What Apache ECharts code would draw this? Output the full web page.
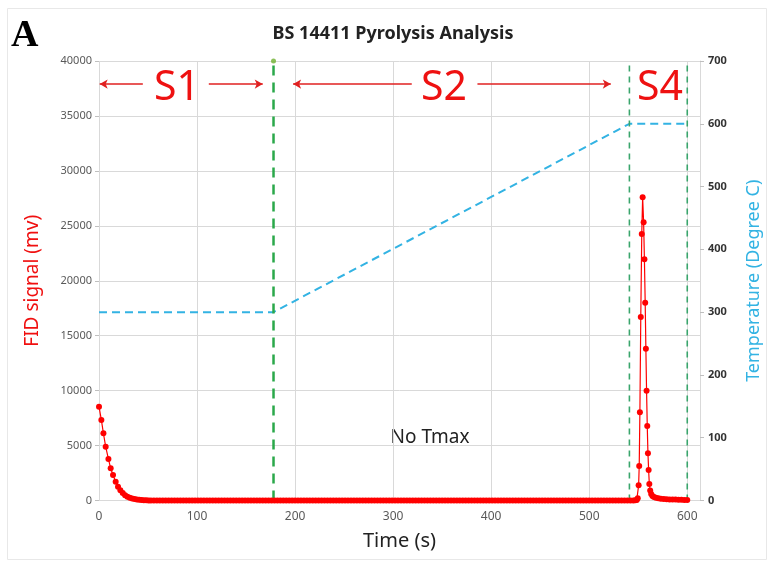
<!DOCTYPE html>
<html>
<head>
<meta charset="utf-8">
<script src="https://cdn.jsdelivr.net/npm/echarts@6/dist/echarts.min.js"></script>
<style>
html,body{margin:0;padding:0;background:#fff;}
#chart{width:772px;height:563px;}
</style>
</head>
<body>
<div id="chart"></div>
<script>
// ---- data ----
const chartTitle = 'BS 14411 Pyrolysis Analysis';
const xTicks = [0, 100, 200, 300, 400, 500, 600];
const leftTicks = [0, 5000, 10000, 15000, 20000, 25000, 30000, 35000, 40000];
const rightTicks = [0, 100, 200, 300, 400, 500, 600, 700];

// FID signal (mv) vs time (s)
const fidTime = [
  0, 2.4, 4.5, 6.8, 9.6, 11.9, 14.3, 17, 19.4, 21.8, 24.2, 26.6, 29, 31.4, 33.8, 36.2, 38.6, 41, 43.4, 45.8, 48.2, 50.6,
  53, 56, 59, 62, 65, 68, 71, 74, 77, 80, 83, 86, 89, 92, 95, 98, 101, 104, 107, 110,
  113, 116, 119, 122, 125, 128, 131, 134, 137, 140, 143, 146, 149, 152, 155, 158, 161, 164, 167, 170,
  173, 176, 179, 182, 185, 188, 191, 194, 197, 200, 203, 206, 209, 212, 215, 218, 221, 224, 227, 230,
  233, 236, 239, 242, 245, 248, 251, 254, 257, 260, 263, 266, 269, 272, 275, 278, 281, 284, 287, 290,
  293, 296, 299, 302, 305, 308, 311, 314, 317, 320, 323, 326, 329, 332, 335, 338, 341, 344, 347, 350,
  353, 356, 359, 362, 365, 368, 371, 374, 377, 380, 383, 386, 389, 392, 395, 398, 401, 404, 407, 410,
  413, 416, 419, 422, 425, 428, 431, 434, 437, 440, 443, 446, 449, 452, 455, 458, 461, 464, 467, 470,
  473, 476, 479, 482, 485, 488, 491, 494, 497, 500, 503, 506, 509, 512, 515, 518, 521, 524, 527, 530,
  533, 536, 539, 542, 545, 547, 548.5, 549.5, 550.4, 551.0, 551.7, 552.6, 553.6, 554.5, 555.5, 556.3,
  557.1, 557.8, 558.5, 559.2, 559.9, 560.6, 561.3, 562.2, 563.2, 564.5, 566, 568, 570.5, 573, 576, 579,
  582, 585, 588, 591, 594, 597, 600
];
const fidValue = [
  8540, 7330, 6120, 4900, 3780, 2930, 2320, 1710, 1260, 930, 680, 480, 350, 250, 180, 130, 90, 60, 40, 25, 15, 8,
  0, 0, 0, 0, 0, 0, 0, 0, 0, 0, 0, 0, 0, 0, 0, 0, 0, 0, 0, 0,
  0, 0, 0, 0, 0, 0, 0, 0, 0, 0, 0, 0, 0, 0, 0, 0, 0, 0, 0, 0,
  0, 0, 0, 0, 0, 0, 0, 0, 0, 0, 0, 0, 0, 0, 0, 0, 0, 0, 0, 0,
  0, 0, 0, 0, 0, 0, 0, 0, 0, 0, 0, 0, 0, 0, 0, 0, 0, 0, 0, 0,
  0, 0, 0, 0, 0, 0, 0, 0, 0, 0, 0, 0, 0, 0, 0, 0, 0, 0, 0, 0,
  0, 0, 0, 0, 0, 0, 0, 0, 0, 0, 0, 0, 0, 0, 0, 0, 0, 0, 0, 0,
  0, 0, 0, 0, 0, 0, 0, 0, 0, 0, 0, 0, 0, 0, 0, 0, 0, 0, 0, 0,
  0, 0, 0, 0, 0, 0, 0, 0, 0, 0, 0, 0, 0, 0, 0, 0, 0, 0, 0, 0,
  0, 0, 0, 0, 10, 20, 50, 200, 1380, 3140, 8030, 16700, 24250, 27600, 25320, 21950,
  18000, 13820, 9990, 6780, 4300, 2780, 1500, 900, 600, 420, 320, 250, 200, 160, 130, 110,
  100, 90, 80, 70, 60, 50, 40
];

// Temperature (Degree C) program
const tempTime = [0, 178, 541, 600];
const tempValue = [300, 300, 600, 600];

// Stage boundaries (s)
const stageBounds = [178, 541, 600];
const stageNames = ['S1', 'S2', 'S4'];
const noTmaxText = 'No Tmax';

// ---- chart ----
const chart = echarts.init(document.getElementById('chart'), null, {renderer: 'canvas'});
const fidData = fidTime.map((t, i) => [t, fidValue[i]]);
const tempData = tempTime.map((t, i) => [t, tempValue[i]]);

const fontFam = '"Noto Sans", "Open Sans", sans-serif';
const gridColor = '#d9d9d9';
const green = '#2aa84a';
const green2 = '#3aa56c';

function vline(t, color, width, dash) {
  return {
    type: 'line', yAxisIndex: 0, silent: true, symbol: 'none', z: 3,
    data: [[t, 0], [t, 40000]],
    lineStyle: {color: color, width: width, type: dash}
  };
}

const arrowY = 37900;
function arrow(from, to) {
  return [{coord: [from, arrowY]}, {coord: [to, arrowY]}];
}

const option = {
  animation: false,
  backgroundColor: '#fff',
  grid: {left: 99, right: 72, top: 61, bottom: 62.5, containLabel: false},
  xAxis: {
    type: 'value', min: xTicks[0], max: 613, interval: 100,
    name: 'Time (s)', nameLocation: 'middle', nameGap: 31,
    nameTextStyle: {fontFamily: fontFam, fontSize: 20, color: '#222'},
    axisLine: {show: true, lineStyle: {color: gridColor}},
    axisTick: {show: false},
    axisLabel: {showMaxLabel: false, fontFamily: fontFam, fontSize: 12, color: '#595959', margin: 10},
    splitLine: {show: true, lineStyle: {color: gridColor, width: 1}}
  },
  yAxis: [
    {
      type: 'value', min: leftTicks[0], max: leftTicks[leftTicks.length - 1], interval: 5000,
      name: 'FID signal (mv)', nameLocation: 'middle', nameGap: 57,
      nameTextStyle: {fontFamily: fontFam, fontSize: 19, color: '#f01010'},
      axisLine: {show: false},
      axisTick: {show: true, length: 4, lineStyle: {color: '#bfbfbf'}},
      axisLabel: {fontFamily: fontFam, fontSize: 11, color: '#595959', margin: 7,
                  formatter: function (v) { return String(v); }},
      splitLine: {show: true, lineStyle: {color: gridColor, width: 1}}
    },
    {
      type: 'value', position: 'right', min: rightTicks[0], max: rightTicks[rightTicks.length - 1], interval: 100,
      name: 'Temperature (Degree C)', nameLocation: 'middle', nameGap: 45,
      nameTextStyle: {fontFamily: fontFam, fontSize: 18, color: '#33b3e3'},
      axisLine: {show: true, lineStyle: {color: gridColor}},
      axisTick: {show: true, length: 4, lineStyle: {color: '#bfbfbf'}},
      axisLabel: {fontFamily: fontFam, fontSize: 11, color: '#333', fontWeight: 'bold', margin: 8},
      splitLine: {show: false}
    }
  ],
  series: [
    {
      type: 'line', yAxisIndex: 1, name: 'Temperature', data: tempData, symbol: 'none', z: 2,
      lineStyle: {color: '#33b3e3', width: 2, type: [8, 5]}
    },
    vline(stageBounds[0], green, 2.5, [10, 7]),
    vline(stageBounds[1], green2, 1.6, [6, 5]),
    vline(stageBounds[2], green2, 1.6, [6, 5]),
    {
      type: 'scatter', yAxisIndex: 0, data: [[stageBounds[0], 40000]], symbol: 'circle', symbolSize: 5,
      itemStyle: {color: '#6fb030'}, z: 4, silent: true
    },
    {
      type: 'line', yAxisIndex: 0, name: 'FID', data: fidData, z: 5,
      showSymbol: true, showAllSymbol: true, symbol: 'circle', symbolSize: 6,
      itemStyle: {color: '#ff0000'},
      lineStyle: {color: '#ff0000', width: 1.2},
      markLine: {
        silent: true, symbol: ['none', 'arrow'], symbolSize: [7, 8],
        lineStyle: {color: '#e02020', width: 1.5, type: 'solid'},
        label: {show: false},
        data: [arrow(44.7, 0.7), arrow(112, 167), arrow(319, 198), arrow(386, 522)]
      }
    }
  ],
  graphic: [
    {type: 'rect', shape: {x: 7.5, y: 8.5, width: 759, height: 551}, style: {fill: 'none', stroke: '#e8e8e8', lineWidth: 1}, silent: true, z: -1},
    {type: 'text', left: 11, top: 17, style: {text: 'A', font: 'bold 38px "Liberation Serif", serif', fill: '#000'}},
    {type: 'text', x: 393, y: 34, style: {text: chartTitle, font: 'bold 18px ' + fontFam, fill: '#222', textAlign: 'center', textVerticalAlign: 'middle'}},
    {type: 'text', x: 177, y: 88, style: {text: stageNames[0], font: '41px ' + fontFam, fill: '#ee1111', textAlign: 'center', textVerticalAlign: 'middle'}},
    {type: 'text', x: 444, y: 88, style: {text: stageNames[1], font: '41px ' + fontFam, fill: '#ee1111', textAlign: 'center', textVerticalAlign: 'middle'}},
    {type: 'text', x: 660, y: 88, style: {text: stageNames[2], font: '41px ' + fontFam, fill: '#ee1111', textAlign: 'center', textVerticalAlign: 'middle'}},
    {type: 'text', x: 430, y: 438, style: {text: noTmaxText, font: '19px ' + fontFam, fill: '#222', textAlign: 'center', textVerticalAlign: 'middle'}}
  ]
};
chart.setOption(option);
</script>
</body>
</html>
